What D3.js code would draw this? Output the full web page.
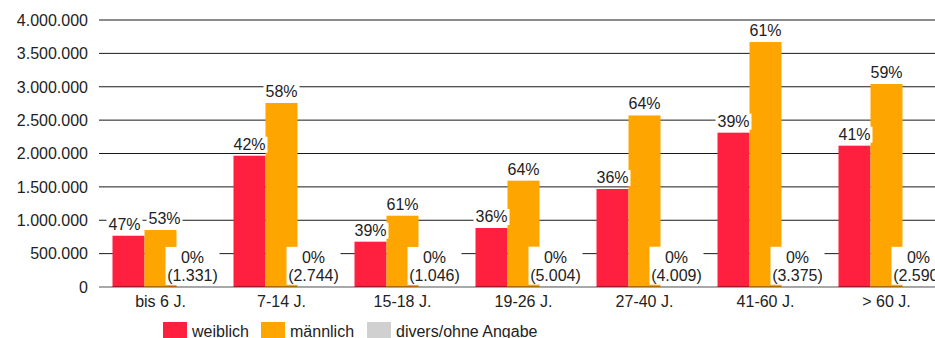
<!DOCTYPE html>
<html>
<head>
<meta charset="utf-8">
<script src="https://cdn.jsdelivr.net/npm/d3@7"></script>
<style>
  html, body { margin: 0; padding: 0; background: #fff; overflow: hidden; }
  svg { display: block; font-family: "Liberation Sans", Arial, sans-serif; }
</style>
</head>
<body>
<svg id="chart" width="935" height="338"></svg>
<script>
// Altersgruppen und Anzahl nach Geschlecht
const categories = ["bis 6 J.", "7-14 J.", "15-18 J.", "19-26 J.", "27-40 J.", "41-60 J.", "> 60 J."];
const seriesNames = ["weiblich", "männlich", "divers/ohne Angabe"];
const weiblich = [768000, 1967000, 679000, 884000, 1468000, 2312000, 2117000];
const maennlich = [854000, 2757000, 1068000, 1593000, 2570000, 3670000, 3041000];
const divers = [1331, 2744, 1046, 5004, 4009, 3375, 2590];
const yTicks = [0, 500000, 1000000, 1500000, 2000000, 2500000, 3000000, 3500000, 4000000];
const colors = ["#FF1F3F", "#FFA500", "#D0D0D0"];

const values = [weiblich, maennlich, divers];
const de = d3.formatLocale({ decimal: ",", thousands: ".", grouping: [3], currency: ["", " €"] });
const fmtNum = de.format(",d");

const svg = d3.select("#chart");
const textColor = "#222";

const step = 121;
const x0 = d3.scaleBand().domain(categories).range([100, 100 + step * categories.length]).padding(0);
const x1 = d3.scaleBand().domain(seriesNames).range([12.5, step - 12.5]).padding(0);
const y = d3.scaleLinear().domain([0, 4000000]).range([287, 20]);

// Gitternetzlinien
svg.append("g")
  .selectAll("line")
  .data(yTicks.filter(t => t > 0))
  .join("line")
  .attr("x1", 99).attr("x2", 950)
  .attr("y1", d => y(d)).attr("y2", d => y(d))
  .attr("stroke", "#1a1a1a").attr("stroke-width", 1);

// Y-Achse Beschriftung
svg.append("g")
  .selectAll("text")
  .data(yTicks)
  .join("text")
  .attr("x", 88).attr("y", d => y(d))
  .attr("dy", "0.36em")
  .attr("text-anchor", "end")
  .attr("font-size", 16)
  .attr("fill", textColor)
  .text(d => fmtNum(d));

// Balken
const groups = svg.append("g")
  .selectAll("g")
  .data(categories)
  .join("g")
  .attr("transform", d => `translate(${x0(d)},0)`);

groups.selectAll("rect")
  .data((c, i) => seriesNames.map((s, j) => ({ s, j, v: values[j][i] })))
  .join("rect")
  .attr("x", d => x1(d.s))
  .attr("width", x1.bandwidth())
  .attr("y", d => y(d.v))
  .attr("height", d => y(0) - y(d.v))
  .attr("fill", d => colors[d.j]);

// Nulllinie über den Balken
svg.append("line")
  .attr("x1", 99).attr("x2", 950)
  .attr("y1", y(0)).attr("y2", y(0))
  .attr("stroke", "#000").attr("stroke-opacity", 0.45).attr("stroke-width", 1.6);

// Datenbeschriftungen (Prozent, mit weißem Hintergrund)
const labelLayer = svg.append("g");
const charW = 8.9, pctW = 14.2, boxH = 17;
categories.forEach((c, i) => {
  const total = weiblich[i] + maennlich[i] + divers[i];
  const boxes = [0, 1].map(j => {
    const v = values[j][i];
    const txt = Math.round(v / total * 100) + "%";
    const w = (txt.length - 1) * charW + pctW + 4;
    const cx = x0(c) + x1(seriesNames[j]) + x1.bandwidth() / 2;
    const base = y(v) - 6;
    return { txt, w, cx, base, top: base - 13, bottom: base + 3 };
  });
  // Überlappende Beschriftungen auseinanderschieben
  const [a, b] = boxes;
  const vOverlap = a.top < b.bottom && b.top < a.bottom;
  const hOverlap = (a.cx + a.w / 2 + 2) - (b.cx - b.w / 2);
  if (vOverlap && hOverlap > 0) { a.cx -= hOverlap / 2 + 1; b.cx += hOverlap / 2 + 1; }
  boxes.forEach(bx => {
    labelLayer.append("rect")
      .attr("x", bx.cx - bx.w / 2).attr("y", bx.top)
      .attr("width", bx.w).attr("height", bx.bottom - bx.top)
      .attr("fill", "#fff");
    labelLayer.append("text")
      .attr("x", bx.cx).attr("y", bx.base)
      .attr("text-anchor", "middle").attr("font-size", 16).attr("fill", textColor)
      .text(bx.txt);
  });
  // divers: zwei Zeilen, Prozent und Anzahl
  const dv = divers[i];
  const dcx = x0(c) + x1(seriesNames[2]) + x1.bandwidth() / 2;
  const dBase = y(dv) - 6;
  const line1 = Math.round(dv / total * 100) + "%";
  const line2 = "(" + fmtNum(dv) + ")";
  const dw = 54;
  labelLayer.append("rect")
    .attr("x", dcx - dw / 2).attr("y", dBase - 34)
    .attr("width", dw).attr("height", 38)
    .attr("fill", "#fff");
  labelLayer.append("text")
    .attr("x", dcx).attr("y", dBase - 18)
    .attr("text-anchor", "middle").attr("font-size", 16).attr("fill", textColor)
    .text(line1);
  labelLayer.append("text")
    .attr("x", dcx).attr("y", dBase)
    .attr("text-anchor", "middle").attr("font-size", 16).attr("fill", textColor)
    .text(line2);
});

// X-Achse Beschriftung
svg.append("g")
  .selectAll("text")
  .data(categories)
  .join("text")
  .attr("x", d => x0(d) + step / 2)
  .attr("y", 307)
  .attr("text-anchor", "middle")
  .attr("font-size", 16)
  .attr("fill", textColor)
  .text(d => d);

// Legende
const legendX = [163, 261, 367];
const legend = svg.append("g")
  .selectAll("g")
  .data(seriesNames)
  .join("g")
  .attr("transform", (d, i) => `translate(${legendX[i]},322)`);
legend.append("rect")
  .attr("width", 24).attr("height", 20)
  .attr("fill", (d, i) => colors[i]);
legend.append("text")
  .attr("x", 29).attr("y", 15)
  .attr("font-size", 16).attr("fill", textColor)
  .text(d => d);
</script>
</body>
</html>
